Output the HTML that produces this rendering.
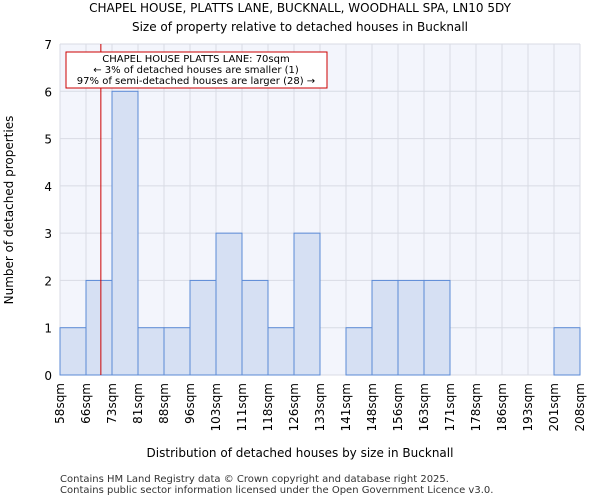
<!DOCTYPE html>
<html><head><meta charset="utf-8"><style>
body{margin:0;background:#fff;font-family:"DejaVu Sans","Liberation Sans",sans-serif;}
</style></head><body>
<svg width="600" height="500" xmlns="http://www.w3.org/2000/svg" font-family="DejaVu Sans, Liberation Sans, sans-serif">
<text x="300" y="12" text-anchor="middle" font-size="12">CHAPEL HOUSE, PLATTS LANE, BUCKNALL, WOODHALL SPA, LN10 5DY</text>
<text x="300" y="31" text-anchor="middle" font-size="12">Size of property relative to detached houses in Bucknall</text>
<rect x="60" y="44" width="520" height="331" fill="#f3f5fc"/>
<g id="grid"></g><g id="bars"></g><g id="axes"></g>
<line x1="102" y1="44" x2="102" y2="375" stroke="#cc0000" stroke-width="1" id="marker"/>
<rect x="66" y="52" width="261" height="36" fill="#fff" stroke="#cc0000"/>
<text x="196" y="62" text-anchor="middle" font-size="10">CHAPEL HOUSE PLATTS LANE: 70sqm</text>
<text x="196" y="73" text-anchor="middle" font-size="10">← 3% of detached houses are smaller (1)</text>
<text x="196" y="84" text-anchor="middle" font-size="10">97% of semi-detached houses are larger (28) →</text>
<text x="300" y="457" text-anchor="middle" font-size="12">Distribution of detached houses by size in Bucknall</text>
<text transform="translate(13,210) rotate(-90)" text-anchor="middle" font-size="12">Number of detached properties</text>
<text x="60" y="482" font-size="10" fill="#333">Contains HM Land Registry data © Crown copyright and database right 2025.</text>
<text x="60" y="493" font-size="10" fill="#333">Contains public sector information licensed under the Open Government Licence v3.0.</text>
</svg>
<script>
const categories=["58sqm","66sqm","73sqm","81sqm","88sqm","96sqm","103sqm","111sqm","118sqm","126sqm","133sqm","141sqm","148sqm","156sqm","163sqm","171sqm","178sqm","186sqm","193sqm","201sqm","208sqm"];
const counts=[1,2,6,1,1,2,3,2,1,3,0,1,2,2,2,0,0,0,0,1];
const yTicks=[0,1,2,3,4,5,6,7];
const propertySize=70;
const binEdges=[58,66,73,81,88,96,103,111,118,126,133,141,148,156,163,171,178,186,193,201,208];
const L=60,R=580,T=44,B=375,NS="http://www.w3.org/2000/svg";
const n=counts.length,bw=(R-L)/n;
const x=i=>L+i*bw, y=v=>B-(v/7)*(B-T);
function mk(t,a,p){const e=document.createElementNS(NS,t);for(const k in a)e.setAttribute(k,a[k]);p.appendChild(e);return e;}
const g=document.getElementById('grid'),bars=document.getElementById('bars'),ax=document.getElementById('axes');
for(let i=0;i<=n;i++){const l=mk('line',{x1:x(i),x2:x(i),y1:T,y2:B,stroke:'#d8dbe4'},g);

}
yTicks.forEach(v=>{const l=mk('line',{x1:L,x2:R,y1:y(v),y2:y(v),stroke:'#d8dbe4'},g);


const t=mk('text',{x:L-8,y:y(v)+5,'text-anchor':'end','font-size':'12'},ax);t.textContent=v;

});
counts.forEach((c,i)=>{if(!c)return;const r=mk('rect',{x:x(i),y:y(c),width:bw,height:B-y(c),fill:'#d6e0f3',stroke:'#5b8ad6','stroke-width':1},bars);

});
categories.forEach((c,i)=>{const t=mk('text',{'font-size':'12','text-anchor':'end',transform:`translate(${x(i)+4},${B+8}) rotate(-90)`},ax);t.textContent=c;

});
let k=0;while(k<binEdges.length-2&&propertySize>binEdges[k+1])k++;
const mx=x(k)+(propertySize-binEdges[k])/(binEdges[k+1]-binEdges[k])*bw;
const m=document.getElementById('marker');m.setAttribute('x1',mx);m.setAttribute('x2',mx);
</script>
</body></html>
